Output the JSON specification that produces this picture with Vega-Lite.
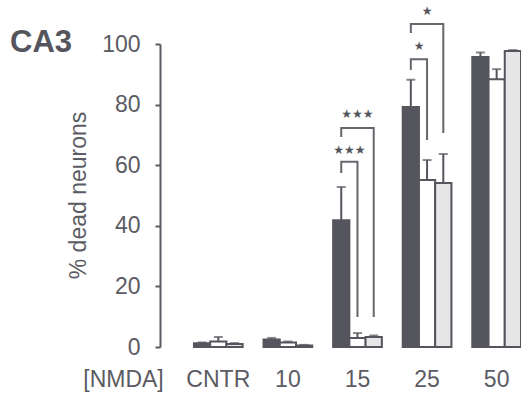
{
  "$schema": "https://vega.github.io/schema/vega-lite/v6.json",
  "width": 361,
  "height": 303,
  "autosize": {"type": "none"},
  "padding": {"left": 160, "top": 44, "right": 0, "bottom": 48},
  "background": "white",
  "config": {
    "font": "Liberation Sans",
    "view": {"stroke": null},
    "axis": {"labelColor": "#5b5b63", "titleColor": "#5b5b63", "domainColor": "#5b5b63", "tickColor": "#5b5b63", "grid": false}
  },
  "title": {
    "text": "CA3", "anchor": "start", "frame": "group", "fontSize": 31, "fontWeight": "bold",
    "color": "#55555d", "baseline": "alphabetic", "offset": 0, "dx": -150, "dy": 78
  },
  "datasets": {
    "bars": [
      {"group": "CNTR", "series": "dark", "value": 1.2, "upper": 1.5},
      {"group": "CNTR", "series": "white", "value": 1.8, "upper": 3.3},
      {"group": "CNTR", "series": "light", "value": 1.0, "upper": 1.3},
      {"group": "10", "series": "dark", "value": 2.5, "upper": 3.0},
      {"group": "10", "series": "white", "value": 1.5, "upper": 1.8},
      {"group": "10", "series": "light", "value": 0.5, "upper": 0.7},
      {"group": "15", "series": "dark", "value": 41.8, "upper": 52.8},
      {"group": "15", "series": "white", "value": 3.0, "upper": 4.6},
      {"group": "15", "series": "light", "value": 3.3, "upper": 3.8},
      {"group": "25", "series": "dark", "value": 79.2, "upper": 88.2},
      {"group": "25", "series": "white", "value": 55.1, "upper": 61.7},
      {"group": "25", "series": "light", "value": 54.1, "upper": 63.7},
      {"group": "50", "series": "dark", "value": 95.7, "upper": 97.2},
      {"group": "50", "series": "white", "value": 88.4, "upper": 91.7},
      {"group": "50", "series": "light", "value": 97.7, "upper": 98.0}
    ],
    "brackets": [
      {"id": "15in", "group": "15", "series": "dark", "v": 57.4, "ord": 1},
      {"id": "15in", "group": "15", "series": "dark", "v": 61.1, "ord": 2},
      {"id": "15in", "group": "15", "series": "white", "v": 61.1, "ord": 3},
      {"id": "15in", "group": "15", "series": "white", "v": 9.9, "ord": 4},
      {"id": "15out", "group": "15", "series": "dark", "v": 69.3, "ord": 1},
      {"id": "15out", "group": "15", "series": "dark", "v": 72.3, "ord": 2},
      {"id": "15out", "group": "15", "series": "light", "v": 72.3, "ord": 3},
      {"id": "15out", "group": "15", "series": "light", "v": 9.9, "ord": 4},
      {"id": "25in", "group": "25", "series": "dark", "v": 91.4, "ord": 1},
      {"id": "25in", "group": "25", "series": "dark", "v": 95.0, "ord": 2},
      {"id": "25in", "group": "25", "series": "white", "v": 95.0, "ord": 3},
      {"id": "25in", "group": "25", "series": "white", "v": 68.3, "ord": 4},
      {"id": "25out", "group": "25", "series": "dark", "v": 103.6, "ord": 1},
      {"id": "25out", "group": "25", "series": "dark", "v": 106.6, "ord": 2},
      {"id": "25out", "group": "25", "series": "light", "v": 106.6, "ord": 3},
      {"id": "25out", "group": "25", "series": "light", "v": 70.6, "ord": 4}
    ],
    "starsInner": [
      {"group": "15", "series": "white", "v": 65, "label": "★★★"},
      {"group": "25", "series": "white", "v": 99.3, "label": "★"}
    ],
    "starsOuter": [
      {"group": "15", "series": "white", "v": 77, "label": "★★★"},
      {"group": "25", "series": "white", "v": 111, "label": "★"}
    ]
  },
  "encoding": {
    "x": {
      "field": "group", "type": "nominal",
      "scale": {"domain": ["CNTR", "10", "15", "25", "50"], "paddingInner": 0.3, "paddingOuter": 0.244, "align": 1},
      "sort": null,
      "axis": {
        "labelAngle": 0, "labelFontSize": 23, "labelBaseline": "alphabetic", "labelPadding": 39,
        "domain": false, "ticks": false, "tickSize": 0,
        "title": "[NMDA]", "titleFontSize": 23, "titleFontWeight": "normal",
        "titleX": -37, "titleY": 39, "titleAlign": "center", "titleBaseline": "alphabetic", "titleAnchor": null
      }
    },
    "xOffset": {
      "field": "series", "type": "nominal",
      "scale": {"domain": ["dark", "white", "light"], "paddingInner": 0, "paddingOuter": 0}
    }
  },
  "layer": [
    {
      "data": {"name": "bars"},
      "mark": {"type": "rule", "strokeWidth": 2, "color": "#55555d"},
      "encoding": {
        "y": {"field": "value", "type": "quantitative"},
        "y2": {"field": "upper"}
      }
    },
    {
      "data": {"name": "bars"},
      "mark": {"type": "tick", "thickness": 2, "size": 9, "color": "#55555d"},
      "encoding": {
        "y": {"field": "upper", "type": "quantitative"}
      }
    },
    {
      "data": {"name": "bars"},
      "mark": {"type": "bar", "stroke": "#55555d", "strokeWidth": 2, "opacity": 1},
      "encoding": {
        "y": {
          "field": "value", "type": "quantitative",
          "scale": {"domain": [0, 100], "nice": false},
          "axis": {
            "values": [0, 20, 40, 60, 80, 100], "tickSize": 5, "tickWidth": 2, "domainWidth": 2,
            "labelFontSize": 23, "labelPadding": 15,
            "title": "% dead neurons", "titleFontSize": 23, "titleFontWeight": "normal",
            "titleX": -75, "titleY": 151, "titleAngle": 270, "titleAlign": "center", "titleBaseline": "alphabetic"
          }
        },
        "fill": {
          "field": "series", "type": "nominal",
          "scale": {"domain": ["dark", "white", "light"], "range": ["#55555d", "#ffffff", "#e6e6e6"]},
          "legend": null
        }
      }
    },
    {
      "data": {"name": "brackets"},
      "mark": {"type": "line", "strokeWidth": 2, "color": "#66666d", "interpolate": "linear"},
      "encoding": {
        "y": {"field": "v", "type": "quantitative"},
        "detail": {"field": "id"},
        "order": {"field": "ord", "type": "quantitative"}
      }
    },
    {
      "data": {"name": "starsInner"},
      "mark": {"type": "text", "fontSize": 12, "font": "DejaVu Sans", "color": "#55555d", "dx": -8, "baseline": "middle"},
      "encoding": {
        "y": {"field": "v", "type": "quantitative"},
        "text": {"field": "label"}
      }
    },
    {
      "data": {"name": "starsOuter"},
      "mark": {"type": "text", "fontSize": 12, "font": "DejaVu Sans", "color": "#55555d", "baseline": "middle"},
      "encoding": {
        "y": {"field": "v", "type": "quantitative"},
        "text": {"field": "label"}
      }
    }
  ]
}
